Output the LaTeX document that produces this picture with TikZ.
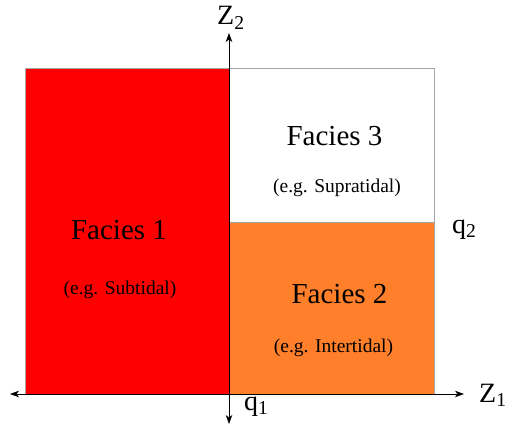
\documentclass[tikz,border=0pt]{standalone}
\usepackage{fontspec}
\setmainfont{Liberation Serif}
\usetikzlibrary{arrows.meta}
\definecolor{fred}{RGB}{255,0,0}
\definecolor{forange}{RGB}{255,127,42}
\begin{document}
\begin{tikzpicture}[x=1pt,y=-1pt,
  region/.style={draw=gray!70, line width=1pt},
  axis/.style={line width=0.8pt, -{Stealth[length=9pt,width=6.5pt,inset=2.5pt]}},
  big/.style={font=\fontsize{29}{32}\selectfont, inner sep=0pt},
  small/.style={font=\fontsize{19.5}{22}\selectfont, inner sep=0pt},
  lab/.style={font=\fontsize{28}{30}\selectfont, inner sep=0pt, anchor=base west}]
\useasboundingbox (0,0) rectangle (505,433);
\fill[fred] (25,69) rectangle (229,394);
\fill[forange] (229,222) rectangle (434,394);
\draw[region] (25,394) -- (25,69) -- (434,69) -- (434,394);
\draw[region] (229,222) -- (434,222);
\coordinate (o) at (229,394);
\coordinate (xr) at (464,394);
\coordinate (xl) at (10,394);
\coordinate (yt) at (229,33);
\coordinate (yb) at (229,424);
\draw[axis] (o) -- (xr);
\draw[axis] (o) -- (xl);
\draw[axis] (o) -- (yt);
\draw[axis] (o) -- (yb);
\node[lab] (z2) at (217,25) {Z\textsubscript{2}};
\node[lab] (z1) at (479,402) {Z\textsubscript{1}};
\node[lab] (q1) at (244,410) {q\textsubscript{1}};
\node[lab] (q2) at (452,233) {q\textsubscript{2}};
\node[big] (f1) at (119,230) {Facies 1};
\node[small] (e1) at (120,290) {(e.g. Subtidal)};
\node[big] (f3) at (334.5,136) {Facies 3};
\node[small] (e3) at (337,188) {(e.g. Supratidal)};
\node[big] (f2) at (339.5,294) {Facies 2};
\node[small] (e2) at (333.5,348) {(e.g. Intertidal)};
\end{tikzpicture}
\end{document}
